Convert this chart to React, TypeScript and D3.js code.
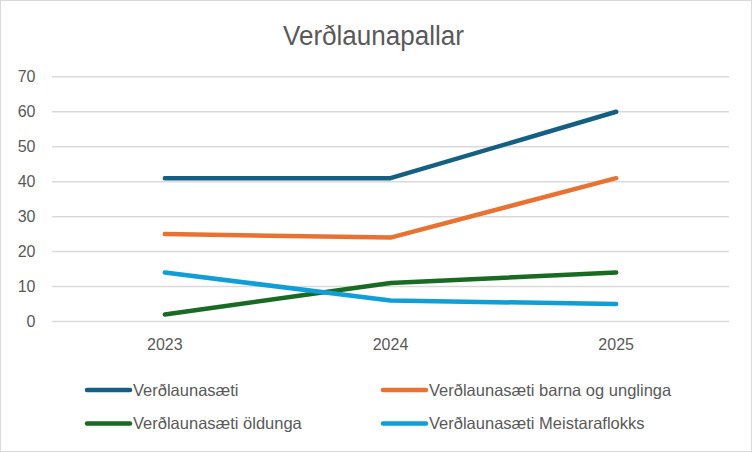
import React from "react";
import * as d3 from "d3";

const years = ["2023", "2024", "2025"];
const seriesNames = [
  "Verðlaunasæti",
  "Verðlaunasæti barna og unglinga",
  "Verðlaunasæti öldunga",
  "Verðlaunasæti Meistaraflokks",
];
const medals = [41, 41, 60];
const youth = [25, 24, 41];
const seniors = [2, 11, 14];
const elite = [14, 6, 5];
const yTicks = [0, 10, 20, 30, 40, 50, 60, 70];
const colors = ["#156082", "#E97132", "#196B24", "#0F9ED5"];
const title = "Verðlaunapallar";

const W = 752;
const H = 452;

export default function App() {
  const seriesValues = [medals, youth, seniors, elite];
  const x = d3.scaleBand<string>().domain(years).range([52, 729]);
  const y = d3.scaleLinear().domain([0, 70]).range([321.5, 76.8]);
  const line = d3
    .line<number>()
    .x((_, i) => (x(years[i]) as number) + x.bandwidth() / 2)
    .y((d) => y(d));
  const sans = "'Liberation Sans', Arial, sans-serif";
  const legendPos = [
    { x: 87, y: 390 },
    { x: 383, y: 390 },
    { x: 87, y: 423.5 },
    { x: 383, y: 423.5 },
  ];
  return (
    <div style={{ position: "fixed", left: 0, top: 0 }}>
      <svg width={W} height={H} style={{ display: "block", background: "#fff" }}>
        <rect x={0.5} y={0.5} width={W - 1} height={H - 1} fill="#fff" stroke="#d9d9d9" />
        <text
          x={283}
          y={45}
          fontFamily={sans}
          fontSize={27}
          fill="#595959"
          textLength={181}
          lengthAdjust="spacingAndGlyphs"
        >
          {title}
        </text>
        {yTicks.map((t) => (
          <g key={t}>
            <line x1={52} x2={729} y1={y(t)} y2={y(t)} stroke="#d9d9d9" strokeWidth={1.5} />
            <text x={35.5} y={y(t) + 5.3} textAnchor="end" fontFamily={sans} fontSize={16} fill="#595959">
              {t}
            </text>
          </g>
        ))}
        {years.map((yr) => (
          <text
            key={yr}
            x={(x(yr) as number) + x.bandwidth() / 2}
            y={349.5}
            textAnchor="middle"
            fontFamily={sans}
            fontSize={16}
            fill="#595959"
          >
            {yr}
          </text>
        ))}
        {seriesValues.map((vals, i) => (
          <path
            key={i}
            d={line(vals) as string}
            fill="none"
            stroke={colors[i]}
            strokeWidth={4.5}
            strokeLinecap="round"
            strokeLinejoin="round"
          />
        ))}
        {seriesNames.map((name, i) => (
          <g key={name}>
            <line
              x1={legendPos[i].x}
              x2={legendPos[i].x + 43}
              y1={legendPos[i].y}
              y2={legendPos[i].y}
              stroke={colors[i]}
              strokeWidth={4.5}
              strokeLinecap="round"
            />
            <text
              x={legendPos[i].x + 46}
              y={legendPos[i].y + 5.5}
              fontFamily={sans}
              fontSize={16.5}
              fill="#595959"
            >
              {name}
            </text>
          </g>
        ))}
      </svg>
    </div>
  );
}
